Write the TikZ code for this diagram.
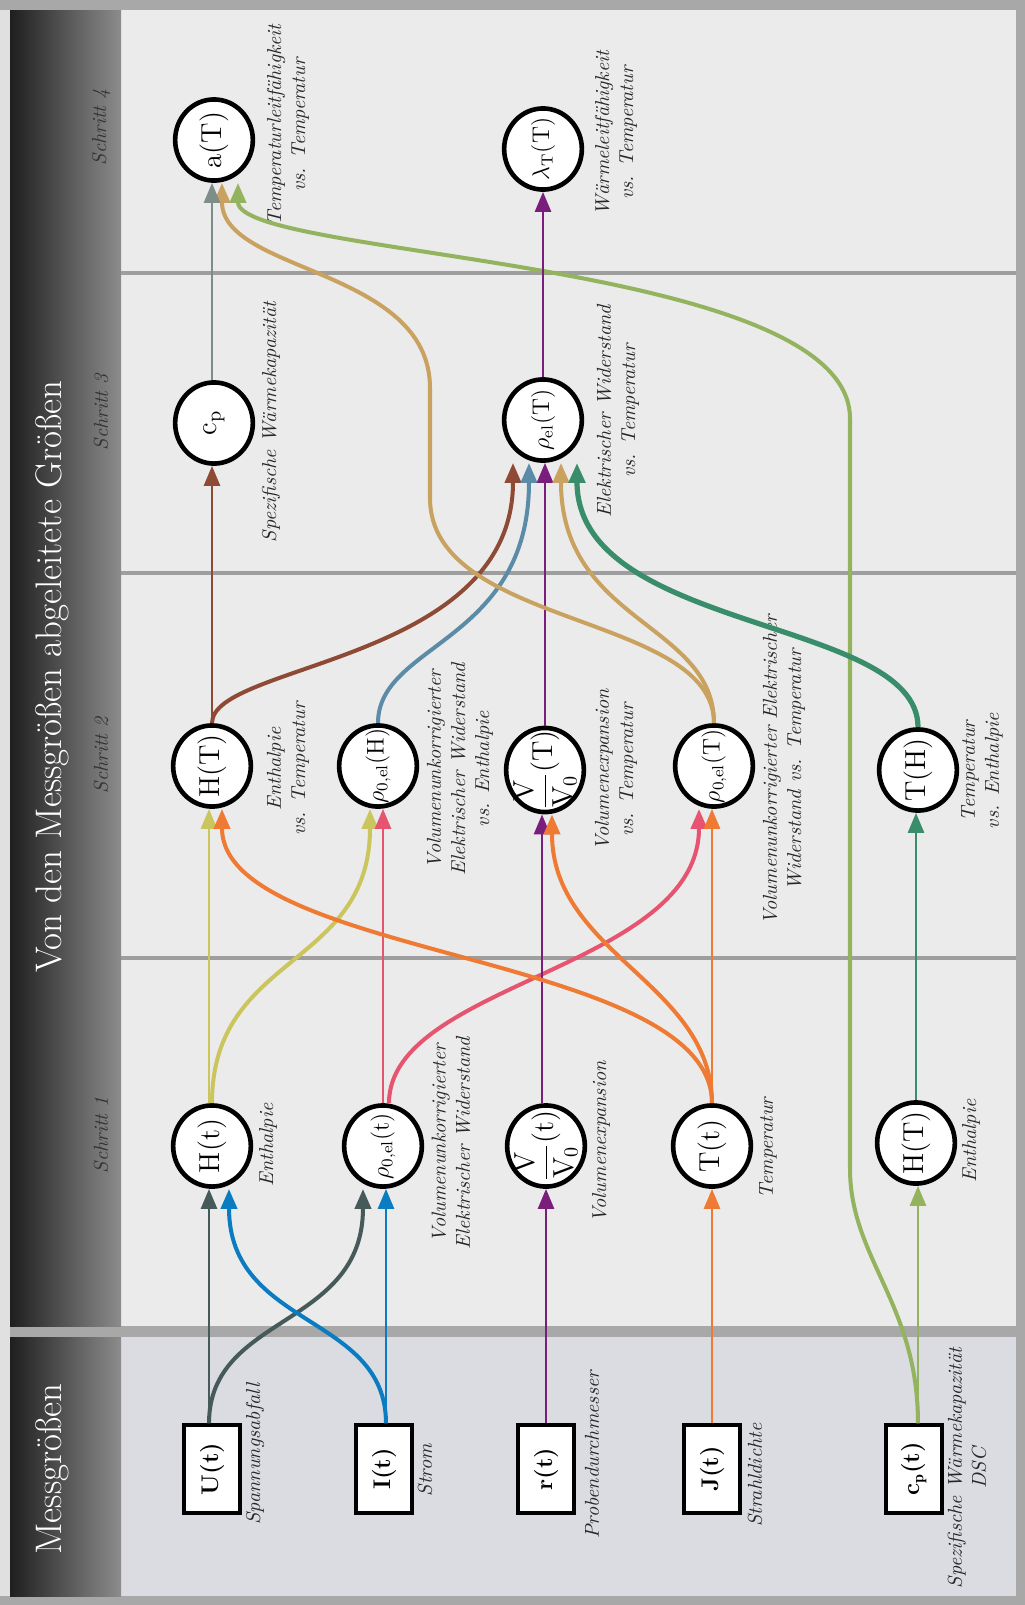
\documentclass[tikz,border=0pt]{standalone}
\usepackage{fontspec}
\usepackage{amsmath}
\usetikzlibrary{arrows.meta, shapes.geometric, calc}

\definecolor{framegray}{HTML}{A8A8A8}
\definecolor{stepbg}{HTML}{EBEBEB}
\definecolor{messbg}{HTML}{DADCE2}
\definecolor{sepgray}{HTML}{9E9E9E}
\definecolor{uslate}{HTML}{465A5A}
\definecolor{iblue}{HTML}{0B7CC1}
\definecolor{rpurple}{HTML}{7A1E7C}
\definecolor{jorange}{HTML}{EE7A33}
\definecolor{cpgreen}{HTML}{93B35F}
\definecolor{hyellow}{HTML}{CBC55E}
\definecolor{rhopink}{HTML}{E6546F}
\definecolor{hteal}{HTML}{3A8D6B}
\definecolor{hbrown}{HTML}{8E4A35}
\definecolor{rhosteel}{HTML}{5C8BA8}
\definecolor{rhotan}{HTML}{C9A25F}
\definecolor{cpgray}{HTML}{7D8E8A}

\newcommand{\vfrac}{$\dfrac{\mathrm{V}}{\mathrm{V}_0}$}

\tikzset{
  messbox/.style={draw, line width=1.6pt, fill=white, rotate=90, minimum width=1.54cm,
    minimum height=0.98cm, inner sep=1pt, font=\large\bfseries},
  groesse/.style={ellipse, draw, line width=2.3pt, fill=white, rotate=90, minimum width=1.42cm,
    minimum height=1.36cm, inner sep=-5pt, font=\Large},
  rhogroesse/.style={groesse, font=\large},
  erkl/.style={rotate=90, align=center, font=\itshape, text=black!85},
  schritt/.style={rotate=90, font=\itshape, text=black!80},
  titel/.style={rotate=90, text=white, font=\fontsize{18.4}{22}\selectfont},
  fluss/.style={line width=1.4pt, -{Triangle[length=10pt,width=8pt]}},
  bogen/.style={fluss, line width=2pt},
}

\begin{document}
\begin{tikzpicture}[x=0.0175cm, y=-0.0175cm]
  \useasboundingbox (0,0) rectangle (1025,1605);

  % Rahmen, Felder, Trennlinien
  \fill[framegray] (0,0) rectangle (1025,1605);
  \fill[black!12] (0,10) rectangle (10,1596);
  \fill[stepbg] (121,10) rectangle (1016,1326);
  \fill[messbg] (121,1337) rectangle (1016,1596);
  \shade[left color=black!88, right color=black!45] (10,10) rectangle (121,1326);
  \shade[left color=black!88, right color=black!45] (10,1337) rectangle (121,1596);
  \foreach \ys in {273,573,958}
    \draw[sepgray, line width=2pt] (121,\ys) -- (1016,\ys);

  \node[titel] (titel) at (52,677) {Von den Messgrößen abgeleitete Größen};
  \node[titel] (messtitel) at (52,1469) {Messgrößen};
  \node[schritt] (s1) at (101,1135) {Schritt 1};
  \node[schritt] (s2) at (101,755) {Schritt 2};
  \node[schritt] (s3) at (101,412) {Schritt 3};
  \node[schritt] (s4) at (101,127) {Schritt 4};

  % Messgroessen
  \node[messbox] (U) at (212,1469) {U(t)};
  \node[messbox] (I) at (384,1469) {I(t)};
  \node[messbox] (r) at (546,1469) {r(t)};
  \node[messbox] (J) at (712,1469) {J(t)};
  \node[messbox] (cpm) at (914,1469) {c$_{\mathbf{p}}$(t)};

  % Schritt 1
  \node[groesse] (Ht) at (212,1146) {H(t)};
  \node[rhogroesse] (rhoNt) at (383,1146) {$\rho_{0,\mathrm{el}}$(t)};
  \node[groesse] (VVt) at (546,1146) {\vfrac(t)};
  \node[groesse] (Tt) at (712,1146) {T(t)};
  \node[groesse] (HTb) at (916,1143) {H(T)};

  % Schritt 2
  \node[groesse] (HT) at (212,766) {H(T)};
  \node[rhogroesse] (rhoNH) at (378,766) {$\rho_{0,\mathrm{el}}$(H)};
  \node[groesse] (VVT) at (545,770) {\vfrac(T)};
  \node[rhogroesse] (rhoNT) at (714,766) {$\rho_{0,\mathrm{el}}$(T)};
  \node[groesse] (TH) at (918,770) {T(H)};

  % Schritt 3 und 4
  \node[groesse] (cp) at (214,423) {c$_\mathrm{p}$};
  \node[rhogroesse] (rhoT) at (543,420) {$\rho_{\mathrm{el}}$(T)};
  \node[groesse] (aT) at (214,140) {a(T)};
  \node[rhogroesse] (lamT) at (543,149) {$\lambda_{\mathrm{T}}$(T)};

  % Erklaerungen
  \node[erkl] (lU) at (255,1454) {Spannungsabfall};
  \node[erkl] (lI) at (425,1470) {Strom};
  \node[erkl] (lr) at (592,1455) {Probendurchmesser};
  \node[erkl] (lJ) at (755,1475) {Strahldichte};
  \node[erkl] (lcpm) at (967,1468) {Spezifische Wärmekapazität\\DSC};
  \node[erkl] (lHt) at (268,1145) {Enthalpie};
  \node[erkl] (lrhoNt) at (451,1143) {Volumenunkorrigierter\\Elektrischer Widerstand};
  \node[erkl] (lVVt) at (601,1142) {Volumenexpansion};
  \node[erkl] (lTt) at (768,1148) {Temperatur};
  \node[erkl] (lHTb) at (971,1141) {Enthalpie};
  \node[erkl] (lHT) at (288,769) {Enthalpie\\vs. Temperatur};
  \node[erkl] (lrhoNH) at (460,769) {Volumenunkorrigierter\\Elektrischer Widerstand\\vs. Enthalpie};
  \node[erkl] (lVVT) at (616,770) {Volumenexpansion\\vs. Temperatur};
  \node[erkl] (lrhoNT) at (784,770) {Volumenunkorrigierter Elektrischer\\Widerstand vs. Temperatur};
  \node[erkl] (lTH) at (982,771) {Temperatur\\vs. Enthalpie};
  \node[erkl] (lcp) at (271,422) {Spezifische Wärmekapazität};
  \node[erkl] (lrhoT) at (618,411) {Elektrischer Widerstand\\vs. Temperatur};
  \node[erkl] (laT) at (288,125) {Temperaturleitfähigkeit\\vs. Temperatur};
  \node[erkl] (llamT) at (616,133) {Wärmeleitfähigkeit\\vs. Temperatur};

  % Messgroessen -> Schritt 1
  \draw[fluss, uslate] ($(U.east)+(-3,0)$) -- ($(Ht.west)+(-3,0)$);
  \draw[bogen, uslate] ($(U.east)+(-3,0)$) .. controls +(0,-110) and +(0,140) .. ($(rhoNt.west)+(-20,0)$);
  \draw[bogen, iblue] ($(I.east)+(2,0)$) .. controls +(0,-110) and +(0,140) .. ($(Ht.west)+(17,0)$);
  \draw[fluss, iblue] ($(I.east)+(2,0)$) -- ($(rhoNt.west)+(3,0)$);
  \draw[fluss, rpurple] (r.east) -- (VVt.west);
  \draw[fluss, jorange] (J.east) -- (Tt.west);
  \draw[fluss, cpgreen] ($(cpm.east)+(4,0)$) -- ($(HTb.west)+(2,0)$);
  \draw[bogen, cpgreen] ($(cpm.east)+(4,0)$) .. controls +(0,-120) and +(0,90) .. ++(-68,-255)
    -- ++(0,-750) .. controls +(0,-160) and +(0,75) .. ($(aT.west)+(24,0)$);

  % Schritt 1 -> Schritt 2
  \draw[fluss, hyellow] ($(Ht.east)+(-3,0)$) -- ($(HT.west)+(-3,0)$);
  \draw[bogen, hyellow] (Ht.east) .. controls +(0,-150) and +(0,160) .. ($(rhoNH.west)+(-8,0)$);
  \draw[fluss, rhopink] (rhoNt.east) -- ($(rhoNH.west)+(5,0)$);
  \draw[bogen, rhopink] ($(rhoNt.east)+(6,0)$) .. controls +(0,-120) and +(0,160) .. ($(rhoNT.west)+(-15,0)$);
  \draw[fluss, rpurple] ($(VVt.east)+(-4,0)$) -- ($(VVT.west)+(-3,0)$);
  \draw[bogen, jorange] (Tt.east) .. controls +(0,-150) and +(0,150) .. ($(HT.west)+(10,0)$);
  \draw[bogen, jorange] (Tt.east) .. controls +(0,-120) and +(0,140) .. ($(VVT.west)+(7,0)$);
  \draw[fluss, jorange] (Tt.east) -- ($(rhoNT.west)+(-2,0)$);
  \draw[fluss, hteal] (HTb.east) -- ($(TH.west)+(-2,0)$);

  % Schritt 2 -> Schritt 3
  \draw[fluss, hbrown] (HT.east) -- ($(cp.west)+(-2,0)$);
  \draw[bogen, hbrown] (HT.east) .. controls +(0,-60) and +(0,200) .. ($(rhoT.west)+(-30,0)$);
  \draw[bogen, rhosteel] (rhoNH.east) .. controls +(0,-80) and +(0,180) .. ($(rhoT.west)+(-14,0)$);
  \draw[fluss, rpurple] (VVT.east) -- ($(rhoT.west)+(2,0)$);
  \draw[bogen, rhotan] (rhoNT.east) .. controls +(0,-100) and +(0,160) .. ($(rhoT.west)+(18,0)$);
  \draw[bogen, rhotan] (rhoNT.east) .. controls +(0,-110) and +(0,130) .. ++(-284,-225)
    -- ++(0,-110) .. controls +(0,-120) and +(0,90) .. ($(aT.west)+(8,0)$);
  \draw[bogen, hteal, line width=2.6pt] (TH.east) .. controls +(0,-110) and +(0,170) .. ($(rhoT.west)+(34,0)$);

  % Schritt 3 -> Schritt 4
  \draw[fluss, cpgray] ($(cp.east)+(-2,0)$) -- ($(aT.west)+(-2,0)$);
  \draw[fluss, rpurple] (rhoT.east) -- (lamT.west);
\end{tikzpicture}
\end{document}
